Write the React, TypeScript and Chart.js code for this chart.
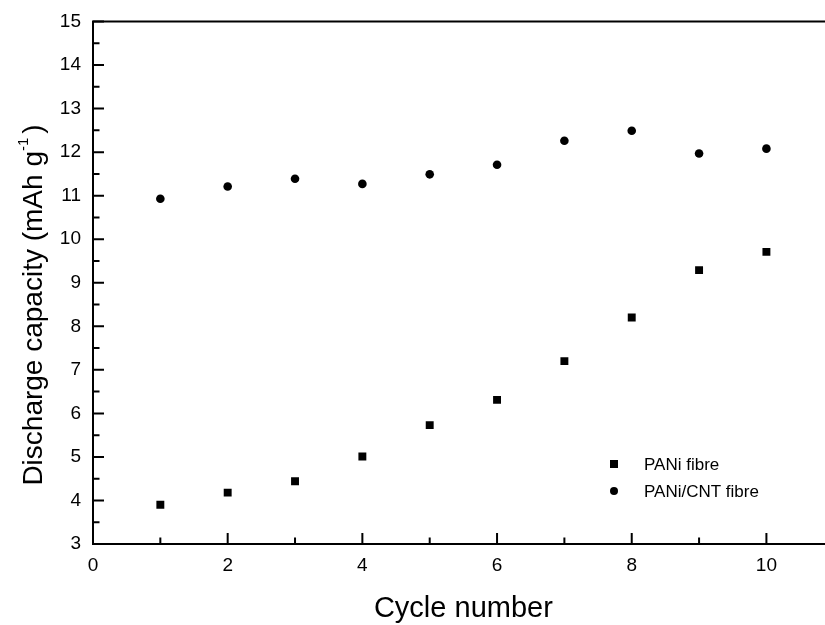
import { useEffect, useRef } from 'react';
import { Chart, registerables } from 'chart.js';

Chart.register(...registerables);

const cycles = [1, 2, 3, 4, 5, 6, 7, 8, 9, 10];
const paniFibre = [3.9, 4.18, 4.44, 5.01, 5.73, 6.31, 7.2, 8.2, 9.29, 9.71];
const paniCntFibre = [10.93, 11.21, 11.39, 11.27, 11.49, 11.71, 12.26, 12.49, 11.97, 12.08];
const seriesLabels = ['PANi fibre', 'PANi/CNT fibre'];
const xTickValues = [0, 2, 4, 6, 8, 10];
const yTickValues = [3, 4, 5, 6, 7, 8, 9, 10, 11, 12, 13, 14, 15];
const xTitle = 'Cycle number';
const yTitleMain = 'Discharge capacity (mAh g';
const yTitleSup = '-1';
const yTitleEnd = ')';

const FONT = "'Liberation Sans', Arial, sans-serif";

const framePlugin = {
  id: 'framePlugin',
  afterDraw(chart: any) {
    const { ctx, chartArea, scales } = chart;
    const { left, top, bottom } = chartArea;
    const right = chart.width;
    const xs = scales.x;
    const ys = scales.y;
    ctx.save();
    ctx.strokeStyle = '#000';
    ctx.fillStyle = '#000';
    ctx.lineWidth = 2;
    ctx.lineCap = 'butt';
    // axis lines (left, bottom, top)
    ctx.beginPath();
    ctx.moveTo(left, top);
    ctx.lineTo(right, top);
    ctx.moveTo(left, top - 1);
    ctx.lineTo(left, bottom + 1);
    ctx.moveTo(left - 1, bottom);
    ctx.lineTo(right, bottom);
    ctx.stroke();
    // inward ticks
    ctx.beginPath();
    for (let i = 0; i < yTickValues.length; i++) {
      const v = yTickValues[i];
      const py = ys.getPixelForValue(v);
      ctx.moveTo(left, py);
      ctx.lineTo(left + 11, py);
      if (i < yTickValues.length - 1) {
        const pm = ys.getPixelForValue((v + yTickValues[i + 1]) / 2);
        ctx.moveTo(left, pm);
        ctx.lineTo(left + 6.5, pm);
      }
    }
    for (let i = 0; i < xTickValues.length; i++) {
      const v = xTickValues[i];
      const px = xs.getPixelForValue(v);
      ctx.moveTo(px, bottom);
      ctx.lineTo(px, bottom - 11);
      const pm = xs.getPixelForValue(v + 1);
      if (pm < right) {
        ctx.moveTo(pm, bottom);
        ctx.lineTo(pm, bottom - 6.5);
      }
    }
    ctx.stroke();

    // x title
    ctx.font = `29px ${FONT}`;
    ctx.textAlign = 'center';
    ctx.textBaseline = 'alphabetic';
    ctx.fillText(xTitle, xs.getPixelForValue(5.5), 616.5);

    // y title with superscript
    ctx.save();
    ctx.translate(42, 305);
    ctx.rotate(-Math.PI / 2);
    ctx.textAlign = 'left';
    ctx.font = `28px ${FONT}`;
    const w1 = ctx.measureText(yTitleMain).width;
    const w3 = ctx.measureText(yTitleEnd).width;
    ctx.font = `15px ${FONT}`;
    const w2 = ctx.measureText(yTitleSup).width;
    const total = w1 + w2 + 4 + w3;
    let cx = -total / 2;
    ctx.font = `28px ${FONT}`;
    ctx.fillText(yTitleMain, cx, 0);
    cx += w1;
    ctx.font = `15px ${FONT}`;
    ctx.fillText(yTitleSup, cx, -14);
    cx += w2 + 4;
    ctx.font = `28px ${FONT}`;
    ctx.fillText(yTitleEnd, cx, 0);
    ctx.restore();

    // legend
    ctx.font = `17px ${FONT}`;
    ctx.textAlign = 'left';
    ctx.textBaseline = 'middle';
    ctx.fillRect(614 - 4, 464 - 4, 8, 8);
    ctx.fillText(seriesLabels[0], 644, 465);
    ctx.beginPath();
    ctx.arc(614, 491, 4, 0, Math.PI * 2);
    ctx.fill();
    ctx.fillText(seriesLabels[1], 644, 492);
    ctx.restore();
  },
};

export default function App() {
  const ref = useRef<HTMLCanvasElement | null>(null);
  useEffect(() => {
    if (!ref.current) return;
    const chart = new Chart(ref.current, {
      type: 'scatter',
      data: {
        datasets: [
          {
            label: seriesLabels[0],
            data: cycles.map((c, i) => ({ x: c, y: paniFibre[i] })),
            pointStyle: 'rect',
            pointRadius: 5.6,
            pointBorderWidth: 0,
            backgroundColor: '#000',
            borderColor: '#000',
          },
          {
            label: seriesLabels[1],
            data: cycles.map((c, i) => ({ x: c, y: paniCntFibre[i] })),
            pointStyle: 'circle',
            pointRadius: 4.3,
            pointBorderWidth: 0,
            backgroundColor: '#000',
            borderColor: '#000',
          },
        ],
      },
      options: {
        animation: false,
        responsive: false,
        maintainAspectRatio: false,
        devicePixelRatio: 1,
        layout: { autoPadding: false, padding: { top: 21.5, right: 0, bottom: 0, left: 0 } },
        plugins: {
          legend: { display: false },
          tooltip: { enabled: false },
        },
        scales: {
          x: {
            type: 'linear',
            min: 0,
            max: 10.87,
            afterBuildTicks: (s: any) => {
              s.ticks = xTickValues.map((v) => ({ value: v }));
            },
            afterFit: (s: any) => {
              s.height = 81;
              s.paddingRight = 0;
              s.paddingLeft = 0;
            },
            grid: { display: false, drawTicks: false },
            border: { display: false },
            ticks: {
              color: '#000',
              padding: 10,
              font: { family: FONT, size: 19 },
              maxRotation: 0,
            },
          },
          y: {
            type: 'linear',
            min: 3,
            max: 15,
            afterBuildTicks: (s: any) => {
              s.ticks = yTickValues.map((v) => ({ value: v }));
            },
            afterFit: (s: any) => {
              s.width = 93;
              s.paddingTop = 0;
              s.paddingBottom = 0;
            },
            grid: { display: false, drawTicks: false },
            border: { display: false },
            ticks: {
              color: '#000',
              padding: 12,
              font: { family: FONT, size: 19 },
            },
          },
        },
      },
      plugins: [framePlugin],
    });
    return () => chart.destroy();
  }, []);
  return (
    <div style={{ position: 'absolute', left: 0, top: 0, width: 825, height: 625, background: '#fff' }}>
      <canvas ref={ref} width={825} height={625} style={{ width: 825, height: 625 }} />
    </div>
  );
}
